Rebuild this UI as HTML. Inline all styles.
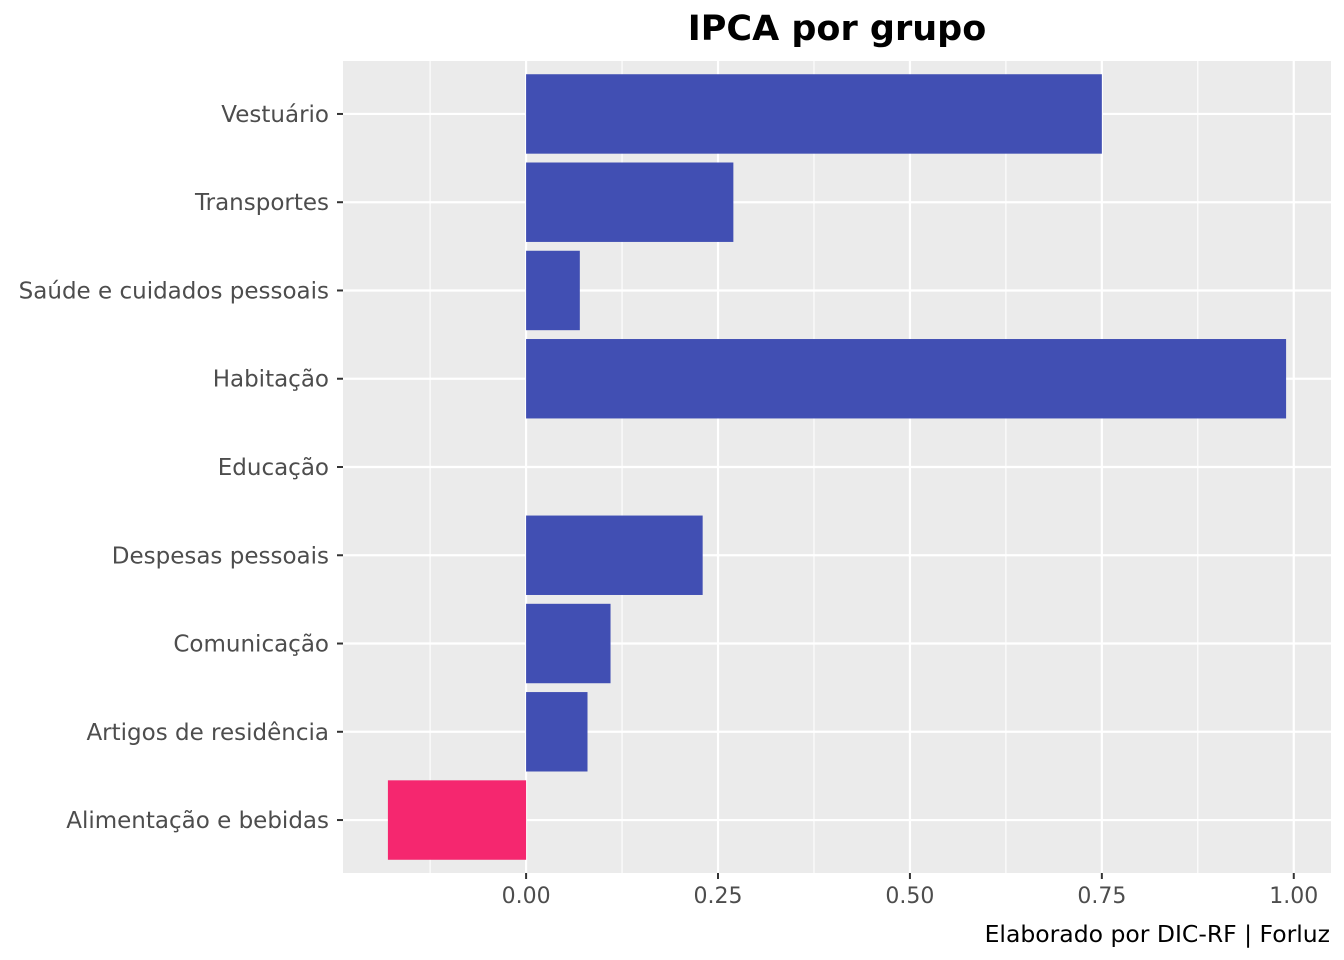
<!DOCTYPE html>
<html><head><meta charset="utf-8"><style>
html,body{margin:0;padding:0;background:#fff;}
svg{display:block;font-family:"DejaVu Sans","Liberation Sans",sans-serif;}
</style></head><body>
<svg id="chart" width="1344" height="960">
<text x="837" y="40" text-anchor="middle" font-size="35" font-weight="bold" fill="#000">IPCA por grupo</text>
<rect x="343" y="61" width="988" height="812" fill="#ebebeb"/>
<g id="grid"></g><g id="bars"></g><g id="yaxis"></g><g id="xaxis"></g>
<text x="1330" y="942" text-anchor="end" font-size="23.5" fill="#000">Elaborado por DIC-RF | Forluz</text>
</svg>
<script>
const categories = ["Alimentação e bebidas","Artigos de residência","Comunicação","Despesas pessoais","Educação","Habitação","Saúde e cuidados pessoais","Transportes","Vestuário"];
const values = [-0.18,0.08,0.11,0.23,0.00,0.99,0.07,0.27,0.75];
const xTicks = [0,0.25,0.5,0.75,1.0];
const xTickLabels = ["0.00","0.25","0.50","0.75","1.00"];
const xMinor = [-0.125,0.125,0.375,0.625,0.875];

const NS="http://www.w3.org/2000/svg";
const pL=343,pR=1331,pT=61,pB=873;
const dmin=Math.min(0,...values),dmax=Math.max(0,...values),pad=(dmax-dmin)*0.05;
const x0=dmin-pad,x1=dmax+pad;
const X=v=>pL+(v-x0)/(x1-x0)*(pR-pL);
const nCat=categories.length,step=(pB-pT)/(nCat-1+1.2);
const Y=i=>pB-step*0.6-i*step;
function mk(t,a,p){const e=document.createElementNS(NS,t);for(const k in a)e.setAttribute(k,a[k]);p.appendChild(e);return e;}
const grid=document.getElementById('grid'),bars=document.getElementById('bars'),ya=document.getElementById('yaxis'),xa=document.getElementById('xaxis');
xMinor.forEach(v=>{if(v<x0||v>x1)return;const l=mk('line',{x1:X(v),x2:X(v),y1:pT,y2:pB,stroke:'#fff','stroke-width':1.1},grid);

});
xTicks.forEach((v,i)=>{const l=mk('line',{x1:X(v),x2:X(v),y1:pT,y2:pB,stroke:'#fff','stroke-width':2.2},grid);


const t=mk('line',{x1:X(v),x2:X(v),y1:pB,y2:pB+6,stroke:'#333','stroke-width':2},xa);


const tx=mk('text',{x:X(v),y:pB+30,'text-anchor':'middle','font-size':22,fill:'#4d4d4d'},xa);tx.textContent=xTickLabels[i];

});
categories.forEach((c,i)=>{const y=Y(i);
const l=mk('line',{x1:pL,x2:pR,y1:y,y2:y,stroke:'#fff','stroke-width':2.2},grid);


const v=values[i],bh=step*0.9;
const r=mk('rect',{x:Math.min(X(0),X(v)),y:y-bh/2,width:Math.abs(X(v)-X(0)),height:bh,fill:v<0?'#f5276f':'#414fb3'},bars);


const t=mk('line',{x1:pL-6,x2:pL,y1:y,y2:y,stroke:'#333','stroke-width':2},ya);


const tx=mk('text',{x:pL-14,y:y+8,'text-anchor':'end','font-size':23,fill:'#4d4d4d'},ya);tx.textContent=c;

});
</script>
</body></html>
